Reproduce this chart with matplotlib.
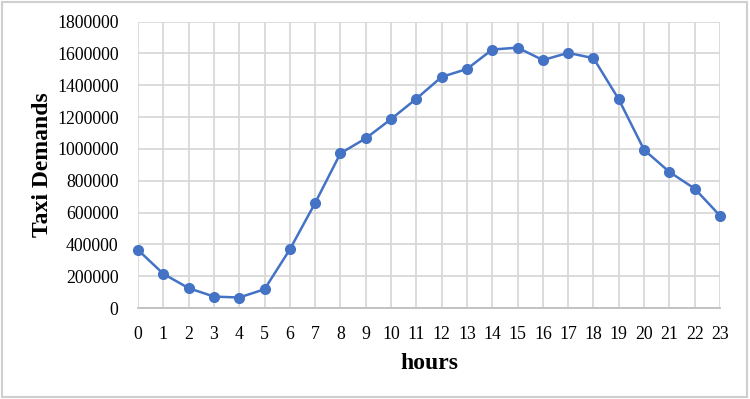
import matplotlib.pyplot as plt
from matplotlib.patches import Rectangle
import numpy as np

hours = list(range(24))
demands = [365000, 215000, 125000, 72000, 66000, 118000, 368000, 660000,
           972000, 1066000, 1187000, 1315000, 1452000, 1502000, 1624000, 1636000,
           1558000, 1603000, 1570000, 1311000, 994000, 855000, 750000, 580000]
y_ticks = list(range(0, 1800001, 200000))

plt.rcParams['font.family'] = ['Liberation Serif', 'DejaVu Serif']

fig = plt.figure(figsize=(7.5, 3.99), dpi=100)
fig.patches.append(Rectangle((0.003, 0.006), 0.993, 0.99, transform=fig.transFigure,
                             fill=False, edgecolor='#CFCFCF', linewidth=1.5))

ax = fig.add_axes([0.184, 0.228, 0.776, 0.718])
ax.plot(hours, demands, color='#4472C4', linewidth=1.8, marker='o', markersize=7,
        zorder=3, clip_on=False)

ax.set_xlim(0, 23)
ax.set_ylim(0, 1800000)
ax.set_xticks(hours)
ax.set_yticks(y_ticks)
ax.set_yticklabels([str(v) for v in y_ticks])
ax.grid(True, color='#D9D9D9', linewidth=1.3)
ax.set_axisbelow(True)
for s in ['top', 'right', 'left']:
    ax.spines[s].set_visible(False)
ax.spines['bottom'].set_color('#BFBFBF')
ax.spines['bottom'].set_linewidth(1.3)
ax.tick_params(axis='both', length=0, labelsize=12.8, colors='#000000')
ax.tick_params(axis='x', pad=13)
ax.tick_params(axis='y', pad=14)

ax.set_xlabel('hours', fontsize=17, fontweight='bold', labelpad=7)
ax.set_ylabel('Taxi Demands', fontsize=17, fontweight='bold', labelpad=3)

fig.savefig('out.png', dpi=100)
